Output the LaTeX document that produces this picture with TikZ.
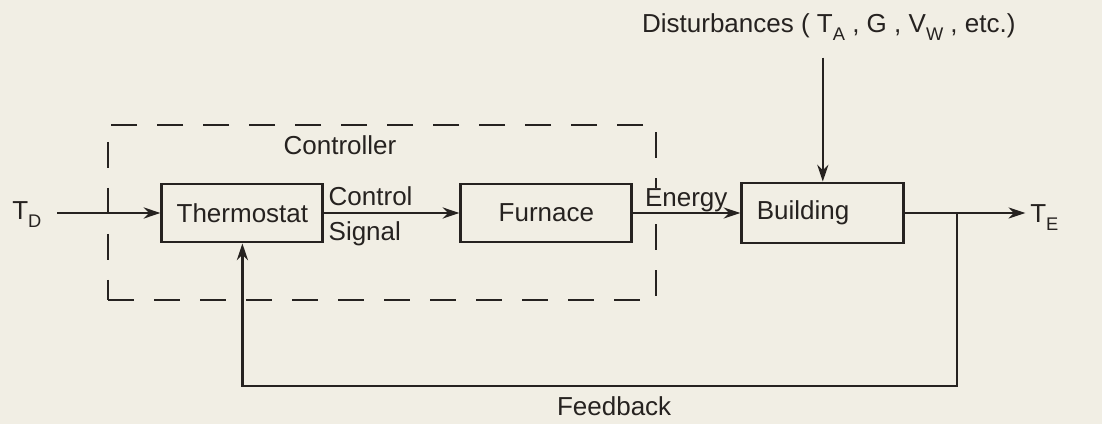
\documentclass[tikz,border=0pt]{standalone}
\usepackage{fontspec}
\setmainfont{Liberation Sans}
\usetikzlibrary{positioning, arrows.meta}
\definecolor{paper}{RGB}{241,238,228}
\definecolor{ink}{RGB}{38,34,32}
\newcommand{\lowsub}[1]{\raisebox{-0.55ex}{\fontsize{13}{13}\selectfont #1}}

\begin{document}
\begin{tikzpicture}[
		>={Stealth[length=4.2mm, width=2.8mm]},
		every node/.style={font=\fontsize{18.5}{22}\selectfont, text=ink},
		blockbox/.style={draw=ink, line width=2.1pt, minimum height=1.45cm, inner sep=0pt},
		ctrlframe/.style={draw=ink, line width=2.1pt, dash pattern=on 0.65cm off 0.5cm},
		signal/.style={draw=ink, line width=1.6pt},
		]
		% Paper and page size
		\fill[paper] (0,0) rectangle (27.55,10.6);
		\useasboundingbox (0,0) rectangle (27.55,10.6);
		
		% Controller frame
		\node[ctrlframe, minimum width=13.7cm, minimum height=4.375cm] (ctrl) at (9.55,5.2875) {};
		\node (ctrlname) at ([xshift=-1.05cm, yshift=-0.55cm]ctrl.north) {Controller};
		
		% Blocks
		\node[blockbox, minimum width=4.025cm] (thermo) at (6.06,5.275) {Thermostat};
		\node[blockbox, minimum width=4.275cm, right=3.375cm of thermo] (furnace) {Furnace};
		\node[blockbox, minimum width=4.05cm, minimum height=1.5cm, text width=3.3cm, align=left, right=2.675cm of furnace] (building) {Building};
		
		% Inputs and output
		\node[anchor=base west, inner sep=0pt] (tdes) at (0.3,5.1) {T\lowsub{D}};
		\node[anchor=base west, inner sep=0pt] (tout) at (25.75,5.03) {T\lowsub{E}};
		\node[anchor=base, inner sep=0pt] (dist) at (20.72,9.78) {Disturbances (~T\lowsub{A}~, G~, V\lowsub{W}~, etc.)};
		\coordinate (tin) at (1.425,5.275);
		\coordinate (tend) at ([xshift=3cm]building.east);
		\coordinate (din) at ([yshift=3.1cm]building.north);
		\coordinate (tap) at ([xshift=1.3cm]building.east);
		
		% Signal labels
		\node[anchor=base west, inner sep=0pt] (ctrltxt) at ([xshift=0.1cm, yshift=0.18cm]thermo.east) {Control};
		\node[anchor=north west, inner sep=0pt] (sigtxt) at ([xshift=0.1cm, yshift=-0.2cm]thermo.east) {Signal};
		\node[anchor=base west, inner sep=1pt, fill=paper] (energytxt) at ([xshift=0.25cm, yshift=0.15cm]furnace.east) {Energy};
		
		% Connectors
		\draw[signal, ->] (tin) -- (thermo.west);
		\draw[signal, ->] (thermo.east) -- (furnace.west);
		\draw[signal, ->] (furnace.east) -- (building.west);
		\draw[signal, ->] (building.east) -- (tend);
		\draw[signal, ->] (din) -- (building.north);
		
		% Feedback loop
		\draw[signal, ->] (tap) -- ++(0,-4.33) -| node[pos=0.24, below, yshift=-1.2mm] (fbtxt) {Feedback} (thermo.south);
		
	\end{tikzpicture}
\end{document}
